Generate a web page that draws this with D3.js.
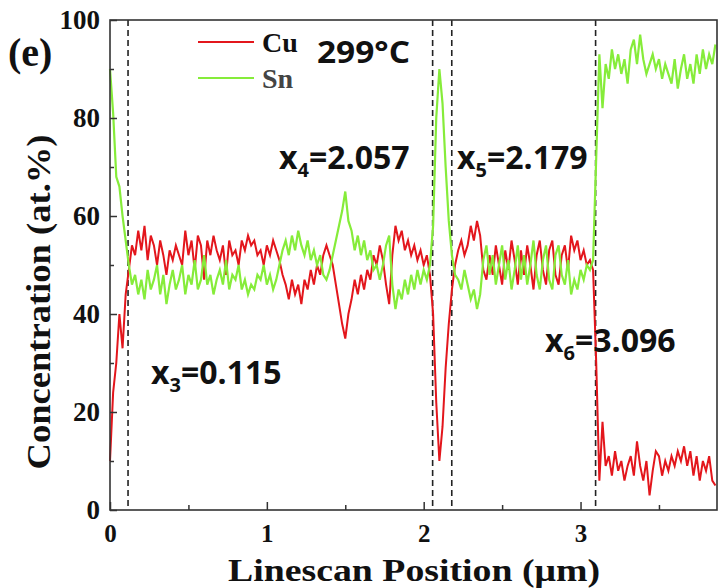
<!DOCTYPE html>
<html>
<head>
<meta charset="utf-8">
<script src="https://cdn.jsdelivr.net/npm/d3@7"></script>
<style>
  body { margin: 0; background: #fff; }
  .tick text { font-family: "Liberation Serif", "Times New Roman", serif; font-weight: bold; font-size: 27px; fill: #111; }
  .x-axis .tick text { font-size: 25px; }
  .tick line { stroke: #333; stroke-width: 1.5; }
  .note { font-family: "Open Sans", sans-serif; font-weight: bold; fill: #111; }
  .serif { font-family: "Liberation Serif", "Times New Roman", serif; font-weight: bold; fill: #111; }
</style>
</head>
<body>
<div id="chart"></div>
<script>
// linescan sampling step (um)
var scanStep = 0.02;

// Cu concentration (at.%)
var cuValues = [
  10,24,30,40,33,44,49,54,52,57,
  53,58,51,56,54,50,55,52,48,53,
  51,54,52,50,57,52,55,49,56,54,
  47,55,52,56,53,51,54,48,55,52,
  53,50,55,53,56,54,55,52,53,50,
  54,52,55,53,51,48,46,43,47,44,
  46,42,47,45,49,46,50,48,52,54,
  52,50,46,42,38,35,40,43,47,44,
  48,45,49,47,52,50,54,51,46,42,
  52,58,55,57,53,55,52,54,51,53,
  50,52,48,40,22,10,17,29,38,45,
  50,53,55,52,54,58,55,59,56,49,
  47,52,48,54,50,46,53,49,55,51,
  46,53,48,54,50,45,52,55,49,46,
  53,55,48,46,52,54,49,56,53,55,
  51,53,50,51,49,30,6,18,9,11,
  7,12,8,10,6,9,11,7,14,9,
  6,10,3,8,12,11,7,10,8,11,
  9,12,10,13,9,12,7,11,6,10,
  8,11,6,5
];

// Sn concentration (at.%)
var snValues = [
  90,81,68,66,60,55,50,46,48,44,
  47,43,49,45,47,50,44,48,42,46,
  49,45,47,50,44,48,46,51,45,47,
  52,46,48,44,47,49,46,51,45,48,
  47,50,45,47,44,46,45,48,47,50,
  46,48,45,47,50,53,55,52,56,53,
  57,54,52,55,51,53,50,52,48,47,
  49,52,55,58,61,65,59,57,53,56,
  52,55,51,53,49,50,47,50,54,56,
  46,41,45,43,47,44,48,45,49,46,
  49,47,50,58,80,90,83,70,59,52,
  48,47,45,49,46,43,45,41,44,51,
  54,48,52,46,50,54,47,51,45,49,
  54,47,52,46,50,55,48,45,51,54,
  47,45,52,54,48,46,51,44,47,45,
  49,47,50,49,51,72,93,82,91,88,
  94,90,93,89,92,87,94,96,91,97,
  92,89,91,93,90,92,88,91,89,87,
  92,86,90,93,88,91,87,93,89,94,
  90,93,91,95
];

// interface positions (um) marked by dashed lines
var boundaries = [
  {name: "3", pos: 0.115},
  {name: "4", pos: 2.057},
  {name: "5", pos: 2.179},
  {name: "6", pos: 3.096}
];

var yMajor = [0, 20, 40, 60, 80, 100];
var yMinor = [10, 30, 50, 70, 90];
var xMajor = [0, 1, 2, 3];
var xMinor = [0.5, 1.5, 2.5, 3.5];

var svgWidth = 719;
var svgHeight = 588;
var margin = {top: 20, right: 2, bottom: 78, left: 110};
var width = svgWidth - margin.left - margin.right;
var height = svgHeight - margin.top - margin.bottom;

var svg = d3.select("#chart")
  .append("svg")
  .attr("width", svgWidth)
  .attr("height", svgHeight);

var chartGroup = svg.append("g")
  .attr("transform", `translate(${margin.left}, ${margin.top})`);

var xScale = d3.scaleLinear().domain([0, 3.87]).range([0, width]);
var yScale = d3.scaleLinear().domain([0, 100]).range([height, 0]);

// dashed interface lines
chartGroup.selectAll(".bound")
  .data(boundaries)
  .enter()
  .append("line")
  .attr("class", "bound")
  .attr("x1", d => xScale(d.pos))
  .attr("x2", d => xScale(d.pos))
  .attr("y1", 0)
  .attr("y2", height)
  .attr("stroke", "#222")
  .attr("stroke-width", 1.6)
  .attr("stroke-dasharray", "6,4");

// series lines
var line = d3.line()
  .x((d, i) => xScale(i * scanStep))
  .y(d => yScale(d));

chartGroup.append("path")
  .datum(cuValues)
  .attr("fill", "none")
  .attr("stroke", "#e3161c")
  .attr("stroke-width", 2)
  .attr("d", line);

chartGroup.append("path")
  .datum(snValues)
  .attr("fill", "none")
  .attr("stroke", "#86ec3a")
  .attr("stroke-width", 2.2)
  .attr("d", line);

// axes, ticks pointing inward
chartGroup.append("g")
  .attr("class", "x-axis")
  .attr("transform", `translate(0, ${height})`)
  .call(d3.axisBottom(xScale).tickValues(xMajor).tickSize(-8).tickPadding(14).tickFormat(d3.format("d")))
  .call(g => g.select(".domain").remove());

chartGroup.append("g")
  .attr("transform", `translate(0, ${height})`)
  .call(d3.axisBottom(xScale).tickValues(xMinor).tickSize(-5).tickFormat(""))
  .call(g => g.select(".domain").remove());

chartGroup.append("g")
  .call(d3.axisLeft(yScale).tickValues(yMajor).tickSize(-7).tickPadding(10))
  .call(g => g.select(".domain").remove());

chartGroup.append("g")
  .call(d3.axisLeft(yScale).tickValues(yMinor).tickSize(-4).tickFormat(""))
  .call(g => g.select(".domain").remove());

// frame
chartGroup.append("rect")
  .attr("width", width)
  .attr("height", height)
  .attr("fill", "none")
  .attr("stroke", "#333")
  .attr("stroke-width", 1.6);

// legend
var legend = [
  {label: "Cu", color: "#e3161c", y: 42, fill: "#111"},
  {label: "Sn", color: "#86ec3a", y: 78, fill: "#444"}
];
legend.forEach(function(item) {
  svg.append("line")
    .attr("x1", 198).attr("x2", 254)
    .attr("y1", item.y).attr("y2", item.y)
    .attr("stroke", item.color)
    .attr("stroke-width", 2.2);
  svg.append("text")
    .attr("class", "serif")
    .attr("x", 262)
    .attr("y", item.y + 10)
    .attr("font-size", 28)
    .style("fill", item.fill)
    .text(item.label);
});

svg.append("text")
  .attr("class", "note")
  .attr("x", 317)
  .attr("y", 63)
  .attr("font-size", 31)
  .attr("textLength", 93)
  .attr("lengthAdjust", "spacingAndGlyphs")
  .text("299°C");

// boundary annotations
var notes = [
  {name: "4", value: "2.057", x: 279, y: 169},
  {name: "5", value: "2.179", x: 457, y: 169},
  {name: "3", value: "0.115", x: 151, y: 384},
  {name: "6", value: "3.096", x: 545, y: 352}
];
notes.forEach(function(n) {
  var t = svg.append("text")
    .attr("class", "note")
    .attr("x", n.x)
    .attr("y", n.y)
    .attr("font-size", 32);
  t.append("tspan").text("x");
  t.append("tspan").attr("font-size", 20).attr("dy", 8).text(n.name);
  t.append("tspan").attr("dy", -8).text("=" + n.value);
});

// panel label
svg.append("text")
  .attr("class", "serif")
  .attr("x", 8)
  .attr("y", 66)
  .attr("font-size", 40)
  .text("(e)");

// axis titles
svg.append("text")
  .attr("class", "serif")
  .attr("transform", "translate(50, 302) rotate(-90)")
  .attr("text-anchor", "middle")
  .attr("font-size", 33)
  .attr("textLength", 335)
  .attr("lengthAdjust", "spacingAndGlyphs")
  .text("Concentration (at.%)");

svg.append("text")
  .attr("class", "serif")
  .attr("x", 414)
  .attr("y", 581)
  .attr("text-anchor", "middle")
  .attr("font-size", 31)
  .attr("textLength", 372)
  .attr("lengthAdjust", "spacingAndGlyphs")
  .text("Linescan Position (μm)");
</script>
</body>
</html>
